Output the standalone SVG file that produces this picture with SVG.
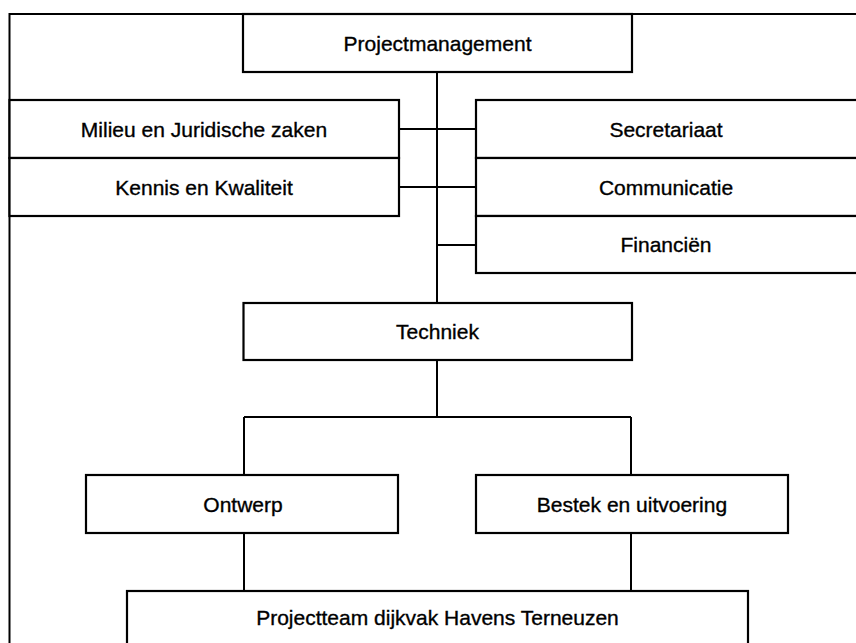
<svg xmlns="http://www.w3.org/2000/svg" width="856" height="643" viewBox="0 0 856 643">
<style>
.box{fill:#fff;stroke:#000;stroke-width:2.2}
.ln{fill:none;stroke:#000;stroke-width:2}
text{font-family:"Liberation Sans",Arial,sans-serif;font-size:21px;fill:#000;stroke:#000;stroke-width:0.35;text-anchor:middle}
</style>
<rect width="856" height="643" fill="#fff"/>
<g id="frame"><path class="ln" d="M9.5,643 V14 H860" stroke-width="2.4"/></g>
<g id="connectors">
<path class="ln" d="M437,72 V303 M437,360 V417 M244,417 H631 M244,417 V475 M631,417 V475 M244,533 V591 M631,533 V591 M399,129 H476 M399,187 H476 M437,245 H476"/>
</g>
<g id="n-pm"><rect class="box" x="243" y="14" width="389" height="58"/><text x="437.5" y="50.5">Projectmanagement</text></g>
<g id="n-milieu"><rect class="box" x="9.5" y="100" width="389.5" height="58"/><text x="204" y="136.5">Milieu en Juridische zaken</text></g>
<g id="n-kennis"><rect class="box" x="9.5" y="158" width="389.5" height="58"/><text x="204" y="194.5">Kennis en Kwaliteit</text></g>
<g id="n-secr"><rect class="box" x="476" y="100" width="390" height="58"/><text x="666" y="136.5">Secretariaat</text></g>
<g id="n-comm"><rect class="box" x="476" y="158" width="390" height="58"/><text x="666" y="194.5">Communicatie</text></g>
<g id="n-fin"><rect class="box" x="476" y="216" width="390" height="57"/><text x="666" y="252">Financiën</text></g>
<g id="n-techniek"><rect class="box" x="243.5" y="303" width="388.5" height="57"/><text x="437.5" y="338.5">Techniek</text></g>
<g id="n-ontwerp"><rect class="box" x="86" y="475" width="312" height="58"/><text x="243" y="511.5">Ontwerp</text></g>
<g id="n-bestek"><rect class="box" x="476" y="475" width="312" height="58"/><text x="632" y="511.5">Bestek en uitvoering</text></g>
<g id="n-team"><rect class="box" x="127" y="591" width="621" height="70"/><text x="437.5" y="624.5">Projectteam dijkvak Havens Terneuzen</text></g>
</svg>
